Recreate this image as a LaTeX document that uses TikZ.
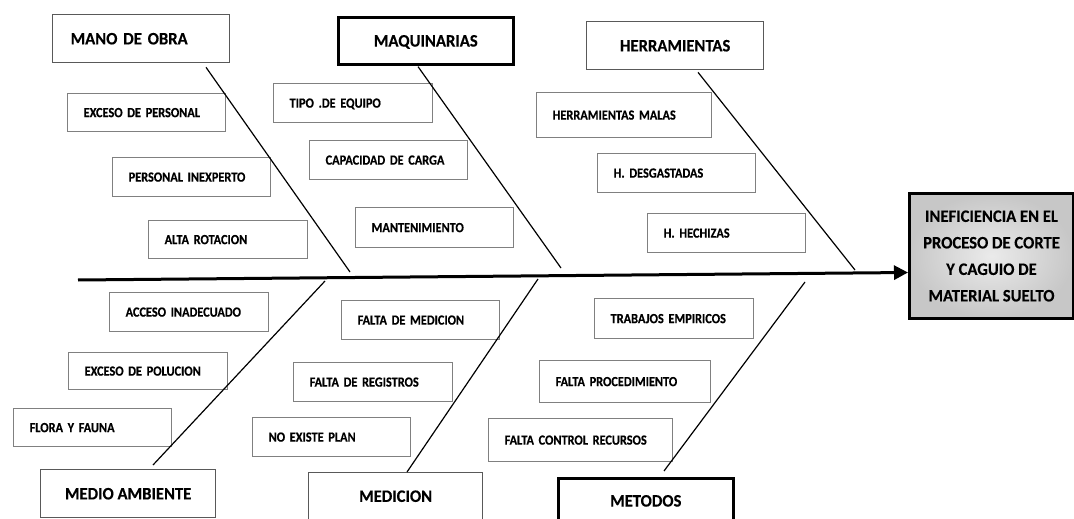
\documentclass[tikz,border=0pt]{standalone}
\usepackage{fontspec}
\setmainfont{Carlito}
\newfontfamily\causefont{Carlito}[FakeStretch=0.88,FakeBold=0.4,WordSpace=0.75]
\newfontfamily\catfont{Carlito}[FakeStretch=0.95,FakeBold=0.3]
\usetikzlibrary{arrows.meta}
\newcommand{\causebox}[6]{%
  \pgfmathsetmacro{\cbw}{#4-#2-32}%
  \pgfmathsetmacro{\cbh}{#5-#3}%
  \node[cause, text width=\cbw pt, minimum height=\cbh pt] (#1) at (#2,#3) {#6};}
\newcommand{\catbox}[7]{%
  \pgfmathsetmacro{\cbw}{#4-#2}%
  \pgfmathsetmacro{\cbh}{#5-#3}%
  \node[#6, minimum width=\cbw pt, minimum height=\cbh pt] (#1) at (#2,#3) {#7};}
\begin{document}
\begin{tikzpicture}[x=1pt,y=-1pt,
  cause/.style={draw=black!50, line width=1.3pt, fill=white, anchor=north west,
    inner xsep=16pt, inner ysep=0pt, align=left,
    font=\causefont\bfseries\fontsize{14}{16}\selectfont, text height=9pt, text depth=0pt},
  cat/.style={draw=black!65, line width=1.3pt, fill=white, anchor=north west,
    inner sep=0pt, font=\catfont\bfseries\fontsize{17.5}{20}\selectfont,
    text height=11.5pt, text depth=0pt},
  catbold/.style={cat, draw=black, line width=2.6pt},
  effect/.style={draw=black, line width=3pt, inner color=black!8, outer color=black!22,
    anchor=north west, align=center, inner sep=0pt,
    font=\catfont\bfseries\fontsize{17.5}{26.5}\selectfont},
  bone/.style={draw=black, line width=1.2pt},
  spine/.style={draw=black, line width=3pt, -{Triangle[length=14pt,width=14pt]}}]
\fill[white] (0,0) rectangle (1074,519);
\useasboundingbox (0,0) rectangle (1074,519);

% categories
\node[cat, minimum width=177pt, minimum height=48pt, text width=141pt,
      inner xsep=18pt, align=left] (mano) at (52,14) {MANO DE OBRA};
\catbox{maq}{337}{16}{512}{63}{catbold}{MAQUINARIAS}
\catbox{herr}{586}{21}{763}{69}{cat}{HERRAMIENTAS}
\catbox{medio}{40}{469}{215}{517}{cat}{MEDIO AMBIENTE}
\catbox{medic}{308}{472}{482}{519}{cat}{MEDICION}
\catbox{metod}{557}{477}{732}{522}{catbold}{METODOS}

% effect
\node[effect, minimum width=164pt, minimum height=125pt] (eff) at (908,192)
  {INEFICIENCIA EN EL\\PROCESO DE CORTE\\Y CAGUIO DE\\MATERIAL SUELTO};

% causes
\causebox{c1}{67}{93}{225}{131}{EXCESO DE PERSONAL}
\causebox{c2}{112}{157}{270}{196}{PERSONAL INEXPERTO}
\causebox{c3}{148}{220}{307}{258}{ALTA ROTACION}
\causebox{c4}{273}{83}{432}{122}{TIPO .DE EQUIPO}
\causebox{c5}{309}{140}{467}{179}{CAPACIDAD DE CARGA}
\causebox{c6}{355}{207}{513}{247}{MANTENIMIENTO}
\causebox{c7}{536}{92}{711}{137}{HERRAMIENTAS MALAS}
\causebox{c8}{597}{153}{755}{192}{H. DESGASTADAS}
\causebox{c9}{647}{213}{805}{252}{H. HECHIZAS}
\causebox{c10}{109}{292}{268}{331}{ACCESO INADECUADO}
\causebox{c11}{68}{352}{227}{389}{EXCESO DE POLUCION}
\causebox{c12}{13}{408}{171}{446}{FLORA Y FAUNA}
\causebox{c13}{341}{300}{499}{339}{FALTA DE MEDICION}
\causebox{c14}{293}{362}{452}{401}{FALTA DE REGISTROS}
\causebox{c15}{252}{417}{410}{456}{NO EXISTE PLAN}
\causebox{c16}{594}{298}{753}{338}{TRABAJOS EMPIRICOS}
\causebox{c17}{539}{360}{710}{402}{FALTA PROCEDIMIENTO}
\causebox{c18}{488}{418}{672}{461}{FALTA CONTROL RECURSOS}

% spine end points
\coordinate (tail) at (78,280);
\coordinate (j1) at (350,272);
\coordinate (j2) at (561,268);
\coordinate (j3) at (855,270);
\coordinate (j4) at (325,281);
\coordinate (j5) at (538,279);
\coordinate (j6) at (805,282);

% bones
\draw[bone] ([xshift=154pt,yshift=-4pt]mano.south west) -- (j1);
\draw[bone] ([xshift=81pt,yshift=-1pt]maq.south west) -- (j2);
\draw[bone] ([xshift=112pt,yshift=-2pt]herr.south west) -- (j3);
\draw[bone] ([xshift=113pt,yshift=4pt]medio.north west) -- (j4);
\draw[bone] ([xshift=99pt]medic.north west) -- (j5);
\draw[bone] ([xshift=107pt,yshift=6pt]metod.north west) -- (j6);

% spine
\draw[spine] (tail) -- ([yshift=-16.5pt]eff.west);
\end{tikzpicture}
\end{document}
